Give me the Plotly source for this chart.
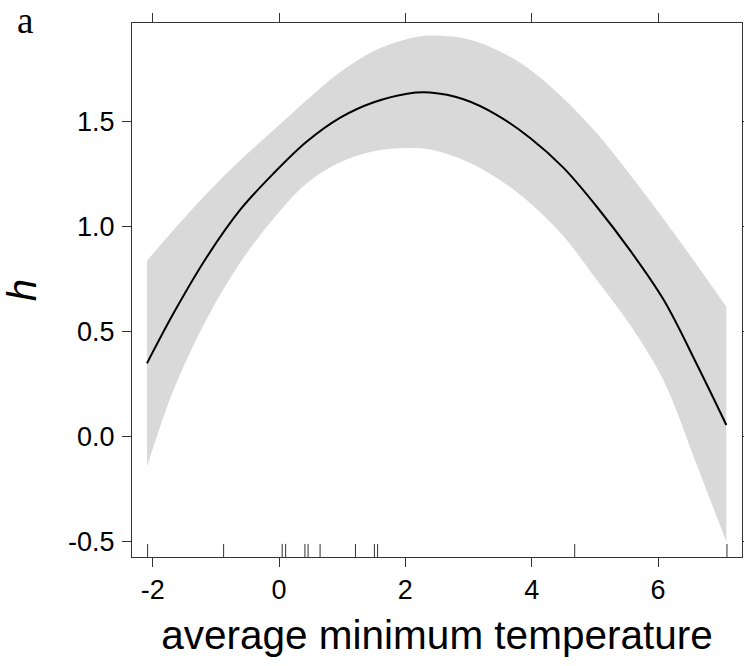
import plotly.graph_objects as go

# ---- data ----
x_grid = [-2.09, -1.67, -1.14, -0.61, -0.085, 0.44, 0.97, 1.50, 2.03, 2.39,
          2.92, 3.45, 3.98, 4.50, 5.03, 5.56, 6.09, 6.62, 7.08]
h_fit = [0.349, 0.587, 0.856, 1.081, 1.253, 1.404, 1.518, 1.591, 1.632, 1.637,
         1.605, 1.530, 1.420, 1.280, 1.094, 0.885, 0.650, 0.340, 0.056]
h_upper = [0.837, 0.983, 1.158, 1.316, 1.459, 1.602, 1.735, 1.835, 1.892, 1.908,
           1.895, 1.840, 1.745, 1.610, 1.443, 1.245, 1.035, 0.815, 0.618]
h_lower = [-0.143, 0.222, 0.563, 0.830, 1.038, 1.206, 1.306, 1.358, 1.373, 1.366,
           1.316, 1.230, 1.110, 0.955, 0.745, 0.530, 0.265, -0.140, -0.500]
rug_x = [-2.08, -0.877, 0.05, 0.105, 0.41, 0.46, 0.65, 1.21, 1.51, 1.56, 4.68, 7.09]

x_ticks = [-2, 0, 2, 4, 6]
y_ticks = [-0.5, 0.0, 0.5, 1.0, 1.5]
y_ticklabels = ["-0.5", "0.0", "0.5", "1.0", "1.5"]

fig = go.Figure()

# confidence band (lower edge, then upper edge filled down to it)
fig.add_trace(go.Scatter(
    x=x_grid, y=h_lower, mode="lines",
    line=dict(width=0, color="#D9D9D9", shape="spline", smoothing=1.0),
    hoverinfo="skip", showlegend=False,
))
fig.add_trace(go.Scatter(
    x=x_grid, y=h_upper, mode="lines", fill="tonexty", fillcolor="#D9D9D9",
    line=dict(width=0, color="#D9D9D9", shape="spline", smoothing=1.0),
    hoverinfo="skip", showlegend=False,
))
# fitted curve
fig.add_trace(go.Scatter(
    x=x_grid, y=h_fit, mode="lines",
    line=dict(color="black", width=2, shape="spline", smoothing=1.0),
    showlegend=False,
))

# rug marks
for rx in rug_x:
    fig.add_shape(type="line", xref="x", yref="y domain",
                  x0=rx, x1=rx, y0=0, y1=0.0245,
                  line=dict(color="#333333", width=1))

axis_common = dict(
    showline=True, linecolor="#333333", linewidth=1, mirror="allticks",
    ticks="outside", ticklen=9, tickwidth=1, tickcolor="#333333",
    showgrid=False, zeroline=False, automargin=False,
    tickfont=dict(family="Liberation Sans, Arial, sans-serif", size=27, color="black"),
)

fig.update_xaxes(
    range=[-2.327, 7.328], tickvals=x_ticks,
    ticktext=[str(v) for v in x_ticks],
    title=dict(text="average minimum temperature",
               font=dict(family="Liberation Sans, Arial, sans-serif", size=40.5, color="black"),
               standoff=16),
    **axis_common,
)
fig.update_yaxes(
    range=[-0.572, 1.968], tickvals=y_ticks, ticktext=y_ticklabels,
    title=dict(text="<i>h</i>",
               font=dict(family="Liberation Sans, Arial, sans-serif", size=40, color="black"),
               standoff=22),
    ticklabelstandoff=2,
    **axis_common,
)

fig.add_annotation(
    text="a", xref="paper", yref="paper",
    x=(15 - 132) / 610, y=(557 - 20) / 534,
    xanchor="left", yanchor="middle", showarrow=False,
    font=dict(family="Liberation Serif, Times New Roman, serif", size=37, color="black"),
)

fig.update_layout(
    width=744, height=666,
    margin=dict(l=132, r=2, t=23, b=109, autoexpand=False),
    plot_bgcolor="white", paper_bgcolor="white",
)

fig.write_html("out.html")
